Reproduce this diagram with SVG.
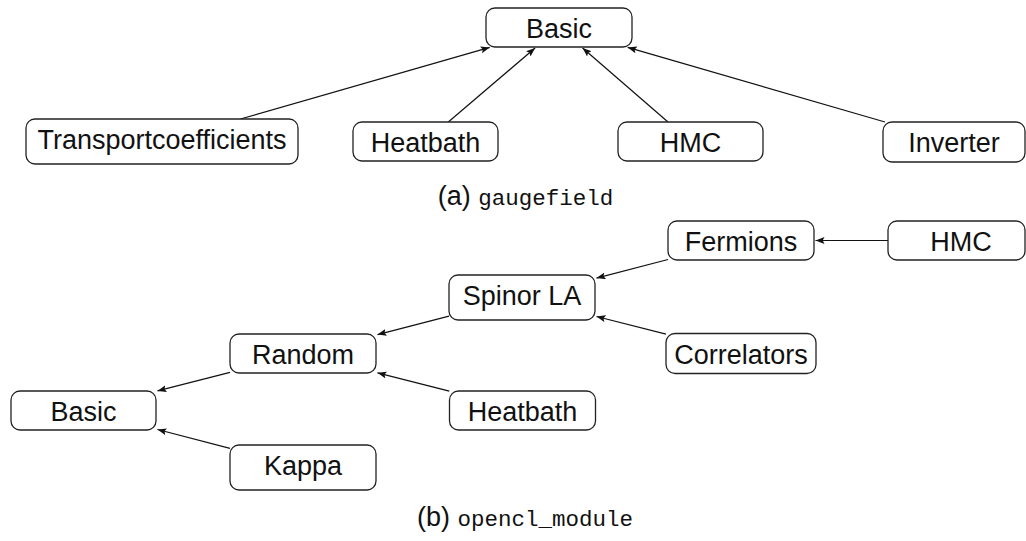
<svg xmlns="http://www.w3.org/2000/svg" width="1026" height="541" viewBox="0 0 1026 541">
<style>
.box{fill:#fff;stroke:#222;stroke-width:1.3}
.lbl{font-family:"Liberation Sans",Arial,sans-serif;font-size:27px;fill:#111;text-anchor:middle}
.cap{font-family:"Liberation Sans",Arial,sans-serif;font-size:27px;fill:#111}
.mono{font-family:"Liberation Mono","Courier New",monospace;font-size:22.5px}
.edge{stroke:#111;stroke-width:1.2;fill:none;marker-end:url(#arr)}
</style>
<defs>
<marker id="arr" markerUnits="userSpaceOnUse" markerWidth="10" markerHeight="8" refX="9" refY="3.5" orient="auto">
<path d="M0,0 L9,3.5 L0,7 L1.8,3.5 z" fill="#111"/>
</marker>
</defs>
<rect width="1026" height="541" fill="#fff"/>
<g id="connectors">
<line class="edge" x1="240.4" y1="119" x2="489.7" y2="47.4"/>
<line class="edge" x1="448.3" y1="122" x2="535.1" y2="48"/>
<line class="edge" x1="668" y1="122" x2="582.6" y2="48"/>
<line class="edge" x1="885" y1="122" x2="627.7" y2="47.4"/>
<line class="edge" x1="888" y1="240.5" x2="815.5" y2="240.5"/>
<line class="edge" x1="668" y1="259.5" x2="596.5" y2="278.1"/>
<line class="edge" x1="666" y1="334.1" x2="596.5" y2="316.5"/>
<line class="edge" x1="449" y1="316.2" x2="377.5" y2="334.6"/>
<line class="edge" x1="449.3" y1="391.2" x2="377.5" y2="372.8"/>
<line class="edge" x1="230" y1="372.4" x2="157.5" y2="390.9"/>
<line class="edge" x1="230" y1="448.4" x2="157.5" y2="429.5"/>
</g>
<g id="a-basic"><rect class="box" x="486" y="8" width="146" height="39" rx="9"/><text class="lbl" x="559" y="37.5">Basic</text></g>
<g id="a-transport"><rect class="box" x="26" y="119" width="272" height="45" rx="9"/><text class="lbl" x="162" y="148.5">Transportcoefficients</text></g>
<g id="a-heatbath"><rect class="box" x="353" y="122" width="145" height="39" rx="9"/><text class="lbl" x="425.5" y="152">Heatbath</text></g>
<g id="a-hmc"><rect class="box" x="618" y="122" width="145" height="39" rx="9"/><text class="lbl" x="690.5" y="152">HMC</text></g>
<g id="a-inverter"><rect class="box" x="883" y="122" width="142" height="40" rx="9"/><text class="lbl" x="954" y="152">Inverter</text></g>
<g id="caption-a"><text class="cap" x="525.5" y="204.5" text-anchor="middle">(a) <tspan class="mono">gaugefield</tspan></text></g>
<g id="b-fermions"><rect class="box" x="668" y="221" width="146" height="39" rx="9"/><text class="lbl" x="741" y="251">Fermions</text></g>
<g id="b-hmc"><rect class="box" x="888" y="221" width="137" height="39" rx="9"/><text class="lbl" x="961" y="251">HMC</text></g>
<g id="b-spinor"><rect class="box" x="449" y="275" width="146" height="45" rx="9"/><text class="lbl" x="522" y="304.5">Spinor LA</text></g>
<g id="b-random"><rect class="box" x="230" y="334" width="146" height="39" rx="9"/><text class="lbl" x="303" y="364">Random</text></g>
<g id="b-correlators"><rect class="box" x="666" y="333.5" width="150" height="40" rx="9"/><text class="lbl" x="741" y="363.5">Correlators</text></g>
<g id="b-basic"><rect class="box" x="11" y="391" width="145" height="39" rx="9"/><text class="lbl" x="83.5" y="421">Basic</text></g>
<g id="b-heatbath"><rect class="box" x="449.5" y="391" width="146" height="39" rx="9"/><text class="lbl" x="522.5" y="421">Heatbath</text></g>
<g id="b-kappa"><rect class="box" x="230" y="445" width="146" height="45" rx="9"/><text class="lbl" x="303" y="474.5">Kappa</text></g>
<g id="caption-b"><text class="cap" x="525" y="526" text-anchor="middle">(b) <tspan class="mono">opencl_module</tspan></text></g>
</svg>
